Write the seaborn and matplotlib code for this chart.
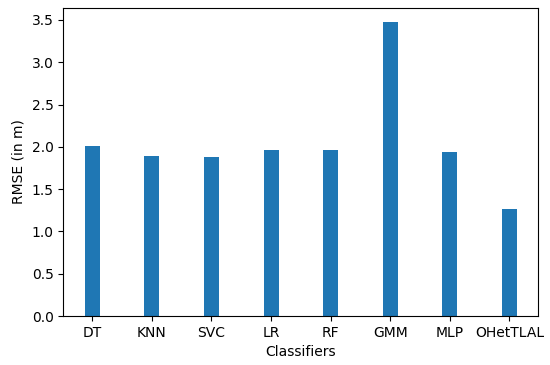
import matplotlib
matplotlib.use("Agg")
import matplotlib.pyplot as plt
import seaborn as sns
import pandas as pd

classifiers = ["DT", "KNN", "SVC", "LR", "RF", "GMM", "MLP", "OHetTLAL"]
rmse = [2.01, 1.89, 1.88, 1.96, 1.96, 3.47, 1.94, 1.26]

df = pd.DataFrame({"Classifiers": classifiers, "RMSE": rmse})

fig, ax = plt.subplots(figsize=(5.5, 3.65), dpi=100)
sns.barplot(data=df, x="Classifiers", y="RMSE", color="#1f77b4",
            saturation=1, width=0.25, ax=ax)
ax.set_xlim(-0.4875, 7.4875)
ax.set_ylim(0, 3.64)
ax.set_yticks([0.0, 0.5, 1.0, 1.5, 2.0, 2.5, 3.0, 3.5])
ax.set_xlabel("Classifiers")
ax.set_ylabel("RMSE (in m)")

plt.subplots_adjust(left=0.115, right=0.979, top=0.978, bottom=0.134)
plt.savefig("out.png", dpi=100)
plt.close()
